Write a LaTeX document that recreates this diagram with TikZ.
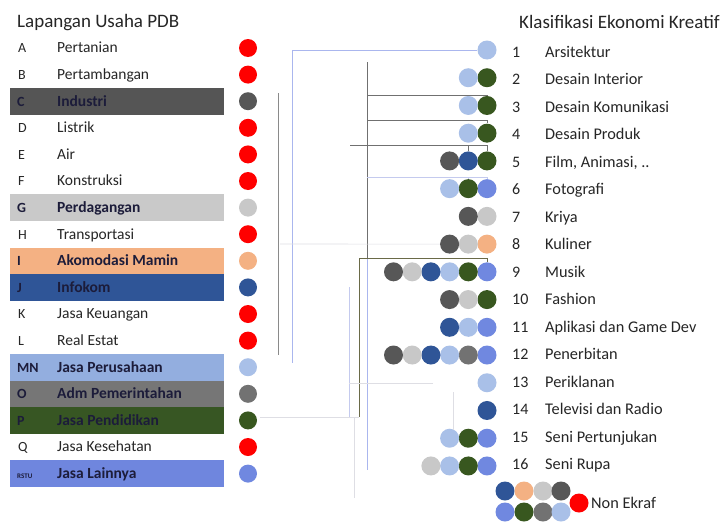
\documentclass[tikz,border=0pt]{standalone}
\usepackage{fontspec}
\setmainfont{Carlito}
\definecolor{txt}{HTML}{262626}
\definecolor{btxt}{HTML}{1C1C3A}
\definecolor{cRed}{HTML}{FF0000}
\definecolor{cC}{HTML}{575757}
\definecolor{cG}{HTML}{C8C8C8}
\definecolor{cI}{HTML}{F4B183}
\definecolor{cJ}{HTML}{2F5597}
\definecolor{cMN}{HTML}{A9C0E8}
\definecolor{cO}{HTML}{727272}
\definecolor{cP}{HTML}{38571F}
\definecolor{cR}{HTML}{7088E0}
\definecolor{bC}{HTML}{555555}
\definecolor{bG}{HTML}{C9C9C9}
\definecolor{bI}{HTML}{F4B183}
\definecolor{bJ}{HTML}{2F5597}
\definecolor{bMN}{HTML}{93AEDF}
\definecolor{bO}{HTML}{767676}
\definecolor{bP}{HTML}{375623}
\definecolor{bR}{HTML}{6F86DE}
\definecolor{lLB}{HTML}{AAB6EE}
\definecolor{lG}{HTML}{8A8A8A}
\definecolor{lD}{HTML}{707070}
\definecolor{lO}{HTML}{6A6A48}
\definecolor{lF}{HTML}{DEDEE4}
\definecolor{lF2}{HTML}{C4CAEE}
\newcommand\tinyL{\fontsize{7}{8}\selectfont}
\begin{document}
\begin{tikzpicture}[x=1pt,y=-1pt,
  ltitle/.style={anchor=base west,inner sep=0pt,text=txt,font=\fontsize{19}{22}\selectfont},
  lletter/.style={anchor=base west,inner sep=0pt,text=txt,font=\fontsize{14}{16}\selectfont},
  lname/.style={anchor=base west,inner sep=0pt,text=txt,font=\fontsize{15.5}{18}\selectfont},
  bletter/.style={anchor=base west,inner sep=0pt,text=btxt,font=\fontsize{14}{16}\selectfont\bfseries},
  bname/.style={anchor=base west,inner sep=0pt,text=btxt,font=\fontsize{15.5}{18}\selectfont\bfseries},
  rnum/.style={anchor=base west,inner sep=0pt,text=txt,font=\fontsize{16}{19}\selectfont},
  rname/.style={anchor=base west,inner sep=0pt,text=txt,font=\fontsize{16.3}{19}\selectfont},
  ldot/.style={circle,inner sep=0pt,minimum size=18pt,draw=none},
  rdot/.style={circle,inner sep=0pt,minimum size=19pt,draw=none},
  lnLB/.style={draw=lLB,line width=0.8pt},
  lnG/.style={draw=lG,line width=0.9pt},
  lnD/.style={draw=lD,line width=0.7pt},
  lnO/.style={draw=lO,line width=0.9pt},
  lnF/.style={draw=lF,line width=0.6pt},
  lnF2/.style={draw=lF2,line width=0.6pt}]
\useasboundingbox (0,0) rectangle (728,522);
\fill[white] (0,0) rectangle (728,522);

% titles
\node[ltitle] (tl) at (17,27.5) {Lapangan Usaha PDB};
\node[ltitle] (tr) at (519,28.5) {Klasifikasi Ekonomi Kreatif};

% bands
\foreach \i/\c in {2/bC,6/bG,8/bI,9/bJ,12/bMN,13/bO,14/bP,16/bR}
  \fill[\c] (10,{48+26.6*\i-13.3}) rectangle (224,{48+26.6*\i+13.3});

% plain left rows
\foreach \i/\l/\n/\d in {0/A/Pertanian/cRed,1/B/Pertambangan/cRed,3/D/Listrik/cRed,
  4/E/Air/cRed,5/F/Konstruksi/cRed,7/H/Transportasi/cRed,10/K/Jasa Keuangan/cRed,
  11/L/Real Estat/cRed,15/Q/Jasa Kesehatan/cRed}{
  \node[lletter] (la\i) at (18,{48+26.6*\i+4.8}) {\l};
  \node[lname] (ln\i) at (57,{48+26.6*\i+4.8}) {\n};
  \node[ldot,fill=\d] (ld\i) at (248,{48+26.6*\i}) {};
}
% band left rows
\foreach \i/\l/\n/\d in {2/C/Industri/cC,6/G/Perdagangan/cG,8/I/Akomodasi Mamin/cI,
  9/J/Infokom/cJ,12/MN/Jasa Perusahaan/cMN,13/O/Adm Pemerintahan/cO,
  14/P/Jasa Pendidikan/cP,16/{\tinyL RSTU}/Jasa Lainnya/cR}{
  \node[bletter] (la\i) at (17,{48+26.6*\i+4.8}) {\l};
  \node[bname] (ln\i) at (57,{48+26.6*\i+4.8}) {\n};
  \node[ldot,fill=\d] (ld\i) at (248,{48+26.6*\i}) {};
}

% right rows text
\foreach \j/\n in {1/Arsitektur,2/Desain Interior,3/Desain Komunikasi,4/Desain Produk,
  5/{Film, Animasi, ..},6/Fotografi,7/Kriya,8/Kuliner,9/Musik,10/Fashion,
  11/Aplikasi dan Game Dev,12/Penerbitan,13/Periklanan,14/Televisi dan Radio,
  15/Seni Pertunjukan,16/Seni Rupa}{
  \node[rnum] (rn\j) at (512,{57.3+27.51*(\j-1)}) {\j};
  \node[rname] (rt\j) at (545,{57.3+27.51*(\j-1)}) {\n};
}

% right rows dots (right to left)
\foreach \j/\cols in {1/{cMN},2/{cP,cMN},3/{cP,cMN},4/{cP,cMN},5/{cP,cJ,cC},
  6/{cR,cP,cMN},7/{cG,cC},8/{cI,cG,cC},9/{cR,cP,cMN,cJ,cG,cC},10/{cP,cG,cC},
  11/{cR,cMN,cJ},12/{cR,cO,cMN,cJ,cG,cC},13/{cMN},14/{cJ},15/{cR,cP,cMN},
  16/{cR,cP,cMN,cG}}{
  \foreach \c [count=\k] in \cols {
    \node[rdot,fill=\c] (r\j-\k) at ({487-18.7*(\k-1)},{50+27.73*(\j-1)}) {};
  }
}

% legend
\node[rdot,fill=cJ]  (g1) at (505,491) {};
\node[rdot,fill=cI]  (g2) at (524,491) {};
\node[rdot,fill=cG]  (g3) at (543,491) {};
\node[rdot,fill=cC]  (g4) at (561,491) {};
\node[rdot,fill=cR]  (g5) at (505,512) {};
\node[rdot,fill=cP]  (g6) at (524,512) {};
\node[rdot,fill=cO]  (g7) at (543,512) {};
\node[rdot,fill=cMN] (g8) at (561,512) {};
\node[rdot,fill=cRed] (g9) at (579,503) {};
\node[rname] (gt) at (591,508.5) {Non Ekraf};

% connectors (faint tree)
\coordinate (jLB) at (292,363);
\draw[lnLB] (r1-1.west) -| (jLB);
\coordinate (gA) at (278,93);
\coordinate (gB) at (278,355);
\draw[lnG] (gA) -- (gB);
\coordinate (dTop) at (367,62);
\coordinate (dMid) at (367,258);
\coordinate (dBot) at (367,470);
\draw[lnD] (dTop) -- (dMid);
\draw[lnLB] (dMid) -- (dBot);
\coordinate (h3) at (367,95);
\draw[lnD] (h3) -| (r3-1.north);
\coordinate (h4) at (367,120);
\draw[lnD] (h4) -| (r4-1.north);
\coordinate (h5) at (350,145);
\draw[lnD] (h5) -| (r5-1.north);
\draw[lnD] (r5-2.north) |- (h5);
\coordinate (h6) at (367,177);
\draw[lnF2] (h6) -| (r6-1.north);
\draw[lnF2] (r6-2.north) |- (h6);
\coordinate (oT) at (359,258);
\coordinate (oB) at (359,417);
\draw[lnO] (oB) -- (oT) -| (r9-1.north);
\coordinate (f1) at (280,244);
\draw[lnF] (f1) -- (r8-3.west);
\coordinate (b1) at (349,287);
\coordinate (b2) at (349,417);
\draw[lnF2] (b1) -- (b2);
\coordinate (b3) at (433,383);
\draw[lnF] (b3) -- (b3 -| b1);
\coordinate (p1) at (260,417);
\draw[lnF] (p1) -- (oB);
\coordinate (c1) at (354,417);
\coordinate (c2) at (354,498);
\draw[lnF] (c1) -- (c2);
\coordinate (e1) at (453,392);
\coordinate (e2) at (453,430);
\draw[lnF] (e1) -- (e2);
\end{tikzpicture}
\end{document}
